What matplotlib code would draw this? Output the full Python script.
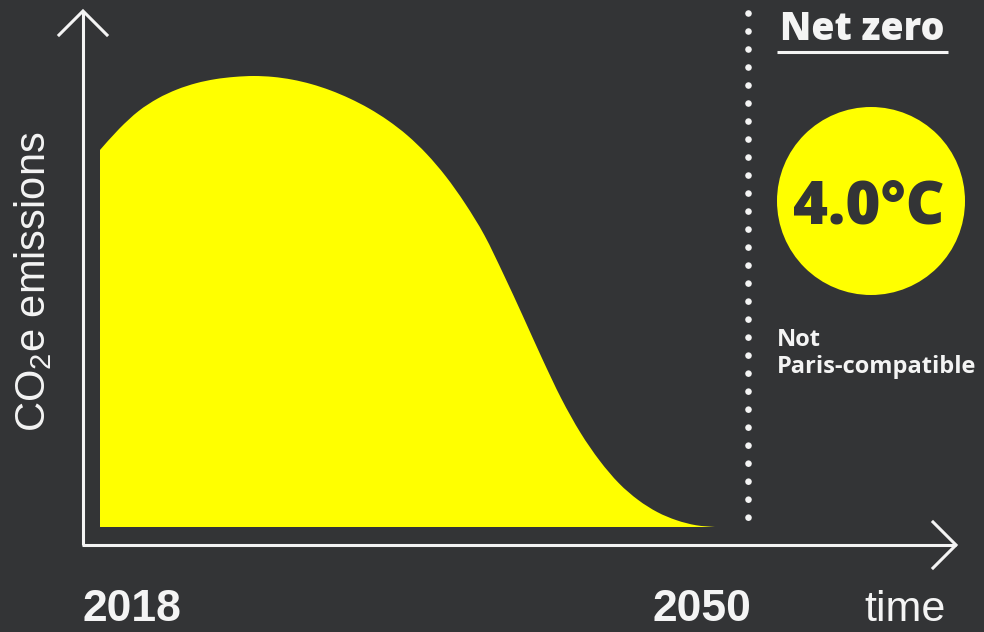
import matplotlib
matplotlib.use("Agg")
import matplotlib.pyplot as plt
from matplotlib.patches import Circle, PathPatch
from matplotlib.path import Path

# ---- data ----
years = list(range(2018, 2051))
emissions = [83.6, 88.3, 92.2, 95.0, 97.0, 98.4, 99.3, 99.8, 100.0, 99.8,
             99.2, 98.2, 96.8, 95.0, 92.8, 90.1, 86.8, 82.7, 77.7, 71.7,
             64.7, 56.0, 46.8, 37.4, 28.5, 20.9, 14.7, 9.7, 6.0, 3.3,
             1.5, 0.4, 0.0]
start_label = "2018"
end_label = "2050"
temperature_label = "4.0°C"
status_label = "Not\nParis-compatible"

BG = "#333436"
YEL = "#ffff00"
WHITE = "#f4f4f4"

plt.rcParams['mathtext.fontset'] = 'custom'
plt.rcParams['mathtext.rm'] = 'Liberation Sans'

W, H = 984, 632
fig = plt.figure(figsize=(W / 100, H / 100), dpi=100, facecolor=BG)

# main data axes: years on x, emissions on y
px_per_year = (715 - 100) / 32
px_per_unit = 4.51
ax = fig.add_axes([0, 0, 1, 1])
ax.set_facecolor(BG)
ax.set_xlim(2018 - 100 / px_per_year, 2018 + (W - 100) / px_per_year)
ax.set_ylim(-(H - 527) / px_per_unit, 527 / px_per_unit)
ax.axis('off')

# smooth area through the data points (Catmull-Rom -> cubic Bezier)
pts = list(zip(years, emissions))
verts = [(years[0], 0.0), pts[0]]
codes = [Path.MOVETO, Path.LINETO]
n = len(pts)
for i in range(n - 1):
    p0 = pts[i - 1] if i > 0 else pts[i]
    p1 = pts[i]
    p2 = pts[i + 1]
    p3 = pts[i + 2] if i + 2 < n else pts[i + 1]
    c1 = (p1[0] + (p2[0] - p0[0]) / 6, p1[1] + (p2[1] - p0[1]) / 6)
    c2 = (p2[0] - (p3[0] - p1[0]) / 6, p2[1] - (p3[1] - p1[1]) / 6)
    verts += [c1, c2, p2]
    codes += [Path.CURVE4] * 3
verts += [(years[-1], 0.0), (years[0], 0.0)]
codes += [Path.LINETO, Path.CLOSEPOLY]
ax.add_patch(PathPatch(Path(verts, codes), facecolor=YEL, lw=0, zorder=2))

# overlay for decorations in pixel units
ov = fig.add_axes([0, 0, 1, 1], facecolor='none')
ov.set_xlim(0, W)
ov.set_ylim(H, 0)
ov.axis('off')

lw = 2.2
# y axis with arrow
ov.plot([83, 83], [545, 11], color=WHITE, lw=lw, solid_capstyle='butt')
ov.plot([59, 83, 107], [35, 11, 35], color=WHITE, lw=lw, solid_joinstyle='miter')
# x axis with arrow
ov.plot([82, 956], [545, 545], color=WHITE, lw=lw, solid_capstyle='butt')
ov.plot([933, 956, 933], [522, 545, 568], color=WHITE, lw=lw, solid_joinstyle='miter')

# dotted net-zero line
ov.plot([748, 748], [13, 528], color=WHITE, lw=4.8,
        linestyle=(0, (0.001, 2.7)), dash_capstyle='round')

# labels
ov.text(33, 282, "CO$_\\mathrm{2}$e emissions", rotation=90, color=WHITE,
        fontsize=30, family='Liberation Sans', ha='center', va='center')
ov.text(82, 621, start_label, color=WHITE, fontsize=32, fontweight='bold',
        family='Liberation Sans', ha='left', va='baseline')
ov.text(652, 621, end_label, color=WHITE, fontsize=32, fontweight='bold',
        family='Liberation Sans', ha='left', va='baseline')
ov.text(946, 621, "time", color=WHITE, fontsize=31,
        family='Liberation Sans', ha='right', va='baseline')

# Net zero header
ov.text(862, 40, "Net zero", color=WHITE, fontsize=27, fontweight='heavy',
        family='Open Sans', ha='center', va='baseline')
ov.plot([777, 948], [52, 52], color=WHITE, lw=2.2, solid_capstyle='butt')

# temperature circle
ov.add_patch(Circle((871, 201), 94, color=YEL, lw=0))
ov.text(869, 223, temperature_label, color=BG, fontsize=43, fontweight='heavy',
        family='Open Sans', ha='center', va='baseline')

ov.text(777, 373, status_label, color=WHITE, fontsize=17, fontweight='bold',
        family='Open Sans', ha='left', va='baseline', linespacing=1.15)

fig.savefig("out.png", dpi=100, facecolor=BG)
